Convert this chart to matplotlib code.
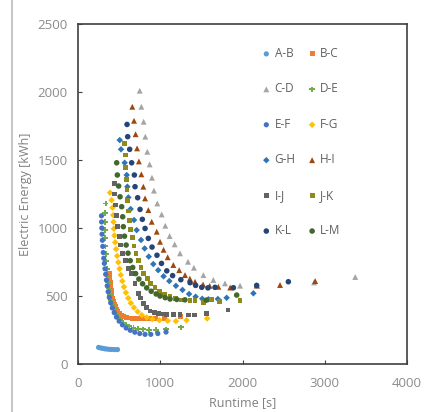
import matplotlib
matplotlib.use("Agg")
import matplotlib.pyplot as plt
from matplotlib.lines import Line2D

# runtime [s] / electric energy [kWh]
ab_t = [250, 275, 300, 325, 350, 380, 410, 445, 480]
ab_e = [122, 118, 115, 112, 110, 108, 107, 106, 106]

bc_t = [385, 388, 392, 397, 403, 410, 418, 428, 440, 453, 468, 485, 505, 528, 555,
        585, 620, 660, 705, 755, 810, 870, 940, 1050, 1250]
bc_e = [668, 635, 600, 570, 540, 512, 486, 462, 440, 420, 402, 386, 372, 360, 350,
        343, 338, 335, 333, 332, 332, 333, 333, 333, 352]

cd_t = [750, 770, 798, 818, 842, 871, 899, 923, 964, 1017, 1061, 1114, 1175, 1240,
        1337, 1409, 1524, 1645, 1787, 1970, 2180, 2870, 3370]
cd_e = [2010, 1892, 1782, 1672, 1561, 1468, 1370, 1275, 1181, 1100, 1017, 941, 880,
        814, 752, 708, 654, 618, 593, 576, 575, 600, 640]

de_t = [336, 330, 328, 328, 330, 334, 338, 343, 350, 357, 366, 376, 388, 402, 418,
        436, 458, 482, 510, 542, 580, 625, 675, 730, 790, 860, 950, 1070, 1250]
de_e = [1180, 1110, 1045, 985, 925, 865, 810, 755, 700, 650, 600, 555, 510, 470, 435,
        402, 372, 346, 324, 305, 290, 277, 267, 260, 255, 252, 252, 255, 270]

ef_t = [285, 287, 289, 292, 296, 301, 307, 313, 320, 328, 336, 345, 355, 366, 380,
        397, 417, 440, 467, 500, 540, 585, 635, 690, 750, 815, 885, 970, 1070]
ef_e = [1090, 1045, 1000, 955, 910, 865, 820, 778, 740, 700, 660, 617, 575, 532, 490,
        450, 412, 378, 345, 315, 288, 265, 248, 234, 224, 218, 218, 224, 235]

fg_t = [390, 408, 420, 428, 432, 436, 443, 452, 463, 476, 490, 505, 520, 538, 558,
        582, 610, 642, 680, 725, 775, 835, 905, 990, 1090, 1190, 1320, 1570]
fg_e = [1260, 1205, 1150, 1095, 1045, 995, 945, 895, 845, 795, 748, 700, 655, 610, 567,
        525, 485, 448, 415, 385, 360, 342, 330, 322, 318, 315, 322, 335]

gh_t = [507, 523, 567, 592, 600, 612, 640, 681, 713, 766, 810, 860, 915, 975, 1040,
        1110, 1190, 1270, 1350, 1430, 1510, 1585, 1700, 1807, 2132]
gh_e = [1647, 1579, 1480, 1390, 1304, 1225, 1140, 1059, 985, 912, 850, 790, 735, 690, 645,
        610, 575, 545, 515, 495, 480, 476, 478, 487, 520]

hi_t = [660, 681, 700, 718, 740, 770, 794, 815, 855, 896, 957, 997, 1040, 1090, 1159,
        1230, 1301, 1360, 1423, 1520, 1600, 1706, 1850, 2172, 2456, 2883]
hi_e = [1892, 1789, 1690, 1586, 1490, 1395, 1304, 1218, 1132, 1046, 973, 899, 840, 785, 728,
        690, 654, 628, 605, 585, 575, 568, 562, 578, 581, 610]

ij_t = [440, 448, 458, 470, 484, 500, 520, 545, 575, 610, 652, 693, 733, 760, 794,
        830, 875, 930, 976, 1030, 1079, 1160, 1240, 1340, 1420, 1564, 1823]
ij_e = [1330, 1250, 1170, 1090, 1010, 940, 875, 815, 760, 705, 667, 593, 520, 485, 446,
        415, 390, 378, 372, 368, 366, 364, 362, 360, 360, 372, 397]

jk_t = [563, 580, 582, 588, 595, 603, 613, 625, 640, 658, 680, 705, 733, 765, 800,
        840, 885, 935, 990, 1050, 1119, 1190, 1261, 1362, 1423, 1524, 1625, 1718, 1970]
jk_e = [1622, 1537, 1446, 1360, 1280, 1200, 1125, 1055, 990, 928, 868, 812, 760, 712, 668,
        628, 592, 560, 533, 512, 495, 482, 471, 466, 468, 455, 476, 459, 466]

kl_t = [596, 604, 628, 652, 685, 693, 725, 754, 782, 815, 855, 900, 960, 1015, 1079,
        1150, 1250, 1362, 1430, 1504, 1580, 1666, 1889, 2172, 2557]
kl_e = [1762, 1672, 1579, 1480, 1390, 1304, 1223, 1137, 1064, 997, 924, 860, 800, 740, 685,
        650, 620, 598, 578, 564, 560, 564, 561, 578, 605]

lm_t = [470, 478, 494, 511, 531, 543, 551, 565, 585, 608, 635, 665, 700, 740, 785,
        835, 890, 950, 997, 1060, 1119, 1200, 1300, 1560, 1929]
lm_e = [1480, 1390, 1309, 1230, 1157, 1083, 1010, 940, 875, 815, 760, 710, 665, 625, 590,
        560, 535, 515, 500, 488, 478, 475, 472, 470, 507]

names = ["A-B", "B-C", "C-D", "D-E", "E-F", "F-G", "G-H", "H-I", "I-J", "J-K", "K-L", "L-M"]
xs = [ab_t, bc_t, cd_t, de_t, ef_t, fg_t, gh_t, hi_t, ij_t, jk_t, kl_t, lm_t]
ys = [ab_e, bc_e, cd_e, de_e, ef_e, fg_e, gh_e, hi_e, ij_e, jk_e, kl_e, lm_e]
colors = ["#5B9BD5", "#ED7D31", "#A5A5A5", "#70AD47", "#4472C4", "#FFC000",
          "#2E75B6", "#9E480E", "#636363", "#8F8A1C", "#264478", "#43682B"]
markers = ["o", "s", "^", "P", "o", "D", "D", "^", "s", "s", "o", "o"]
sizes = [14, 12, 18, 16, 14, 11, 11, 18, 12, 12, 16, 16]

plt.rcParams['font.family'] = ['Open Sans', 'DejaVu Sans']

fig = plt.figure(figsize=(4.24, 4.12), dpi=100)
ax = fig.add_axes([0.184, 0.1165, 0.776, 0.825])

handles = []
for i in range(len(names)):
    h = ax.scatter(xs[i], ys[i], s=sizes[i], c=colors[i], marker=markers[i],
                   edgecolors="none", label=names[i], zorder=3)
    handles.append(h)

ax.set_xlim(0, 4000)
ax.set_ylim(0, 2500)
ax.set_xticks([0, 1000, 2000, 3000, 4000])
ax.set_yticks([0, 500, 1000, 1500, 2000, 2500])
ax.tick_params(direction="in", length=3, width=0.8, colors="#404040",
               labelcolor="#8C8C8C", labelsize=9.5)
ax.tick_params(axis="y", pad=7.5)
ax.tick_params(axis="x", pad=9)
for s in ax.spines.values():
    s.set_color("#404040")
    s.set_linewidth(1.2)

ax.set_xlabel("Runtime [s]", fontsize=9, color="#808080", labelpad=5)
ax.set_ylabel("Electric Energy [kWh]", fontsize=9, color="#808080", labelpad=4)

order = [0, 2, 4, 6, 8, 10, 1, 3, 5, 7, 9, 11]
leg = ax.legend([handles[k] for k in order], [names[k] for k in order],
                ncol=2, loc="upper left", bbox_to_anchor=(0.54, 0.95),
                frameon=False, fontsize=8.5, labelspacing=1.9, handlelength=0.8,
                handletextpad=0.3, columnspacing=1.0, borderpad=0, markerscale=1.0)
for t in leg.get_texts():
    t.set_color("#606060")

# thin grey border on the left of the screenshot
fig.add_artist(Line2D([12 / 424, 12 / 424], [0, 1], color="#C8C8C8", lw=1.5))

fig.savefig("out.png", dpi=100)
